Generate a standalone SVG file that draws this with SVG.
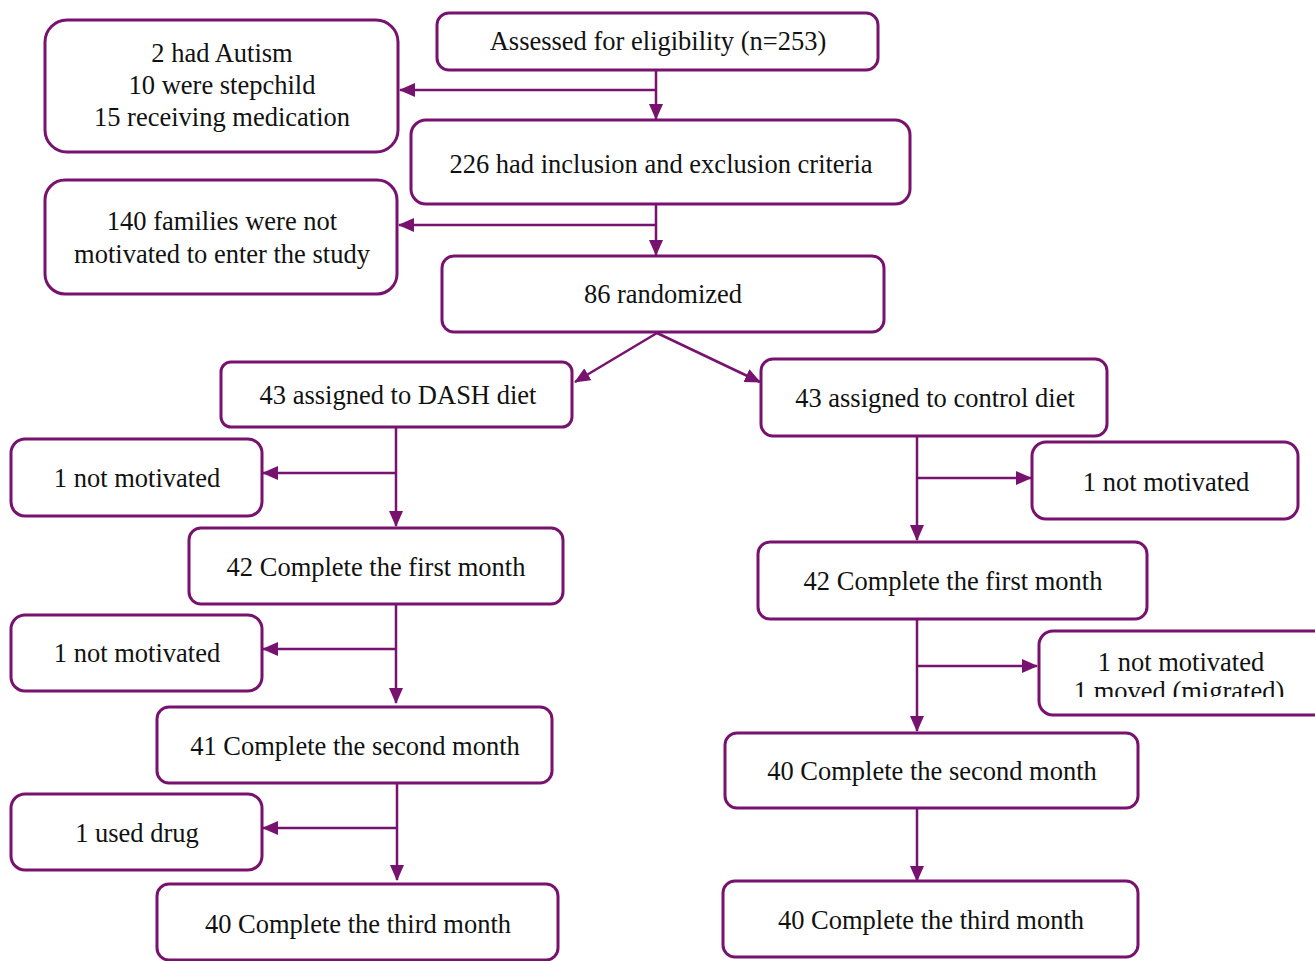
<svg xmlns="http://www.w3.org/2000/svg" width="1315" height="961" viewBox="0 0 1315 961">
<style>
.box{fill:#fff;stroke:#78126f;stroke-width:3}
.t{font-family:'Liberation Serif','Times New Roman',serif;font-size:26.5px;fill:#111;text-anchor:middle}
.c{fill:none;stroke:#78126f;stroke-width:2.5}
</style>
<defs>
<marker id="ah" markerUnits="userSpaceOnUse" markerWidth="16" markerHeight="14" refX="15" refY="7" orient="auto">
<path d="M0,0 L16,7 L0,14 Z" fill="#78126f"/>
</marker>
<clipPath id="clipR2"><rect x="1030" y="630" width="285" height="67"/></clipPath>
</defs>
<rect width="1315" height="961" fill="#fff"/>
<g id="connectors">
<path class="c" d="M656,71 V119" marker-end="url(#ah)"/>
<path class="c" d="M656,90 H400" marker-end="url(#ah)"/>
<path class="c" d="M656,205 V255" marker-end="url(#ah)"/>
<path class="c" d="M656,225 H399" marker-end="url(#ah)"/>
<path class="c" d="M657,333 L575,382" marker-end="url(#ah)"/>
<path class="c" d="M657,333 L760,382" marker-end="url(#ah)"/>
<path class="c" d="M396,427 V526" marker-end="url(#ah)"/>
<path class="c" d="M396,473 H263" marker-end="url(#ah)"/>
<path class="c" d="M396,604 V703" marker-end="url(#ah)"/>
<path class="c" d="M396,649 H263" marker-end="url(#ah)"/>
<path class="c" d="M397,783 V880" marker-end="url(#ah)"/>
<path class="c" d="M397,828 H263" marker-end="url(#ah)"/>
<path class="c" d="M917,436 V540" marker-end="url(#ah)"/>
<path class="c" d="M917,478 H1031" marker-end="url(#ah)"/>
<path class="c" d="M917,615 V731" marker-end="url(#ah)"/>
<path class="c" d="M917,666 H1037" marker-end="url(#ah)"/>
<path class="c" d="M917,805 V881" marker-end="url(#ah)"/>
</g>
<g id="n_assessed"><rect class="box" x="437" y="13" width="441" height="57" rx="12"/><text class="t" x="658" y="50">Assessed for eligibility (n=253)</text></g>
<g id="n_excl1"><rect class="box" x="45" y="20" width="353" height="132" rx="22"/><text class="t" x="222" y="62">2 had Autism</text><text class="t" x="222" y="94">10 were stepchild</text><text class="t" x="222" y="126">15 receiving medication</text></g>
<g id="n_226"><rect class="box" x="411" y="120" width="499" height="84" rx="15"/><text class="t" x="661" y="173">226 had inclusion and exclusion criteria</text></g>
<g id="n_excl2"><rect class="box" x="45" y="180" width="352" height="114" rx="20"/><text class="t" x="222" y="230">140 families were not</text><text class="t" x="222" y="263">motivated to enter the study</text></g>
<g id="n_rand"><rect class="box" x="442" y="256" width="442" height="76" rx="12"/><text class="t" x="663" y="303">86 randomized</text></g>
<g id="n_dash"><rect class="box" x="221" y="362" width="351" height="65" rx="10"/><text class="t" x="398" y="404">43 assigned to DASH diet</text></g>
<g id="n_ctrl"><rect class="box" x="761" y="359" width="346" height="77" rx="12"/><text class="t" x="935" y="407">43 assigned to control diet</text></g>
<g id="n_l1"><rect class="box" x="11" y="439" width="251" height="77" rx="14"/><text class="t" x="137" y="487">1 not motivated</text></g>
<g id="n_l_m1"><rect class="box" x="189" y="528" width="374" height="76" rx="12"/><text class="t" x="376" y="576">42 Complete the first month</text></g>
<g id="n_l2"><rect class="box" x="11" y="615" width="251" height="76" rx="14"/><text class="t" x="137" y="662">1 not motivated</text></g>
<g id="n_l_m2"><rect class="box" x="157" y="707" width="395" height="76" rx="12"/><text class="t" x="355" y="755">41 Complete the second month</text></g>
<g id="n_l3"><rect class="box" x="11" y="794" width="251" height="76" rx="14"/><text class="t" x="137" y="842">1 used drug</text></g>
<g id="n_l_m3"><rect class="box" x="157" y="884" width="401" height="76" rx="12"/><text class="t" x="358" y="933">40 Complete the third month</text></g>
<g id="n_r1"><rect class="box" x="1032" y="442" width="266" height="77" rx="14"/><text class="t" x="1166" y="491">1 not motivated</text></g>
<g id="n_r_m1"><rect class="box" x="758" y="542" width="389" height="77" rx="12"/><text class="t" x="953" y="590">42 Complete the first month</text></g>
<g id="n_r2"><rect class="box" x="1039" y="631" width="290" height="84" rx="14"/><g clip-path="url(#clipR2)"><text class="t" x="1181" y="671">1 not motivated</text><text class="t" x="1179" y="700">1 moved (migrated)</text></g></g>
<g id="n_r_m2"><rect class="box" x="725" y="733" width="413" height="75" rx="12"/><text class="t" x="932" y="780">40 Complete the second month</text></g>
<g id="n_r_m3"><rect class="box" x="723" y="881" width="415" height="76" rx="12"/><text class="t" x="931" y="929">40 Complete the third month</text></g>
</svg>
